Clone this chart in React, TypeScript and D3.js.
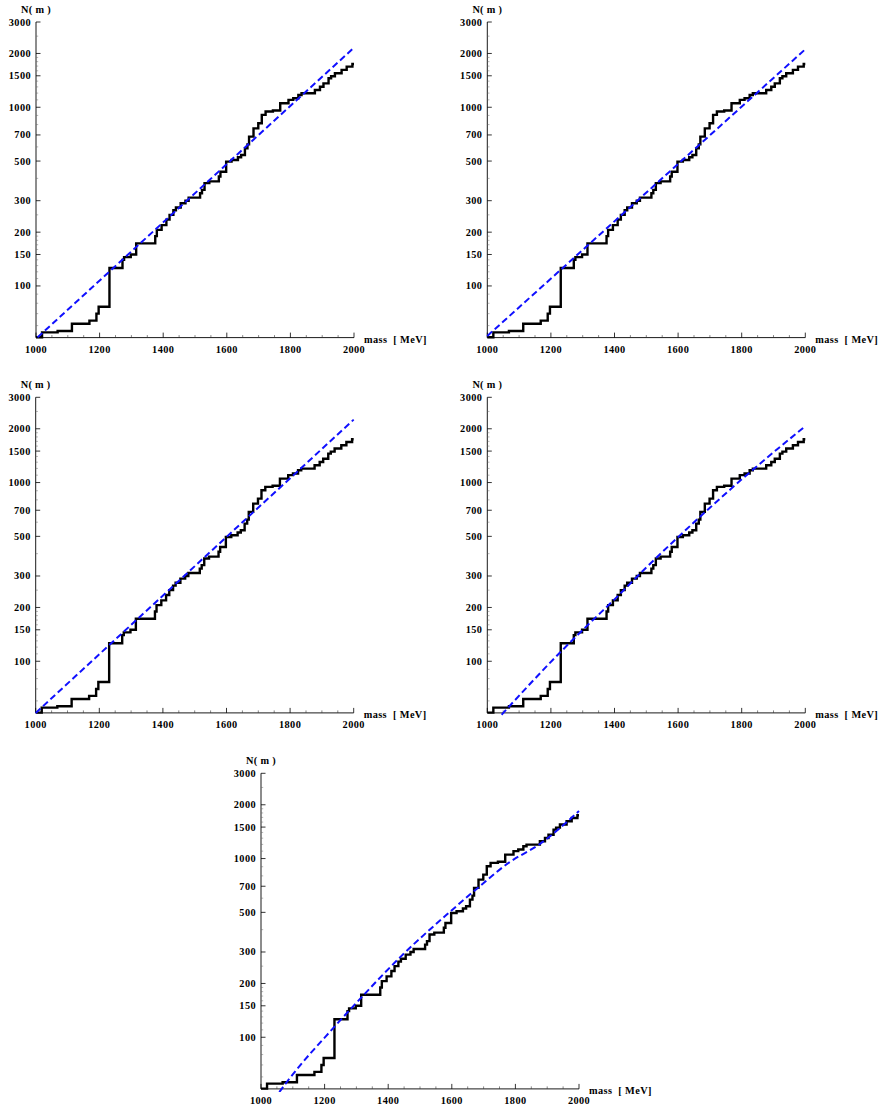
import React from 'react';
import * as d3 from 'd3';

// cumulative number of states N(m) (step function)
const stepMass = [1000, 1019, 1068, 1113, 1168, 1190, 1197, 1231, 1272, 1277, 1298, 1315, 1375, 1380, 1395, 1410, 1420, 1432, 1440, 1455, 1470, 1480, 1516, 1522, 1530, 1545, 1575, 1580, 1598, 1615, 1635, 1645, 1657, 1665, 1670, 1684, 1699, 1710, 1722, 1745, 1768, 1794, 1809, 1825, 1835, 1877, 1893, 1904, 1920, 1928, 1940, 1961, 1977, 1995, 2000];
const stepCount = [51.6, 55, 56, 61.5, 64, 70, 76.5, 126, 140, 145, 150, 173, 190, 206, 219, 235, 250, 265, 275, 290, 300, 312, 330, 345, 376, 385, 410, 436, 496, 507, 525, 541, 589, 620, 685, 762, 813, 906, 946, 960, 1052, 1100, 1124, 1172, 1197, 1250, 1303, 1360, 1452, 1490, 1550, 1618, 1688, 1746, 1746];

// fitted curves
const fit1Mass = [1005, 2000];
const fit1Count = [51.6, 2155];
const fit2Mass = [1000, 2000];
const fit2Count = [52.5, 2111];
const fit3Mass = [1000, 2000];
const fit3Count = [51.4, 2250];
const fit4Mass = [1045, 1231, 1320, 1400, 1500, 1600, 1700, 1800, 2000];
const fit4Count = [50.2, 113, 162, 222, 335, 495, 723, 1042, 2069];
const fit5Mass = [1057.5, 1080.6, 1232, 1321, 1437, 1594, 1677, 1782, 1876, 2000];
const fit5Count = [49.3, 56, 115, 171, 280, 503, 674, 955, 1203, 1847];

const xMajorTicks = [1000, 1200, 1400, 1600, 1800, 2000];
const xMinorTicks = [1050, 1100, 1150, 1250, 1300, 1350, 1450, 1500, 1550, 1650, 1700, 1750, 1850, 1900, 1950];
const yMajorTicks = [100, 150, 200, 300, 500, 700, 1000, 1500, 2000, 3000];
const yMinorTicks = [60, 70, 80, 90, 110, 120, 130, 140, 160, 170, 180, 190, 250, 400, 600, 800, 900, 1100, 1200, 1300, 1400, 1600, 1700, 1800, 1900, 2500];

const X_DOMAIN: [number, number] = [1000, 2000];
const Y_DOMAIN: [number, number] = [51.4, 3000];

const panels = [
  { x0: 36, yTop: 22, fm: fit1Mass, fc: fit1Count, curved: false },
  { x0: 487.3, yTop: 22, fm: fit2Mass, fc: fit2Count, curved: false },
  { x0: 35.7, yTop: 397.3, fm: fit3Mass, fc: fit3Count, curved: false },
  { x0: 487.3, yTop: 397.3, fm: fit4Mass, fc: fit4Count, curved: true },
  { x0: 261, yTop: 773.3, fm: fit5Mass, fc: fit5Count, curved: true },
];

const W = 318;
const H = 315.6;
const FONT = '"Liberation Serif", "Times New Roman", serif';

function Panel({ idx, x0, yTop, fm, fc, curved }: any) {
  const x = d3.scaleLinear().domain(X_DOMAIN).range([x0, x0 + W]);
  const y = d3.scaleLog().domain(Y_DOMAIN).range([yTop + H, yTop]);
  const bottom = yTop + H;
  const stepData = stepMass.map((m, i) => [m, stepCount[i]] as [number, number]);
  const stepLine = d3
    .line<[number, number]>()
    .x((d) => x(d[0]))
    .y((d) => y(d[1]))
    .curve(d3.curveStepAfter);
  const fitData = fm.map((m: number, i: number) => [m, fc[i]] as [number, number]);
  const fitLine = d3
    .line<[number, number]>()
    .x((d) => x(d[0]))
    .y((d) => y(d[1]))
    .curve(curved ? d3.curveMonotoneX : d3.curveLinear);
  const clipId = `clip${idx}`;
  return (
    <g>
      <defs>
        <clipPath id={clipId}>
          <rect x={x0 - 3} y={yTop - 3} width={W + 4} height={H + 6} />
        </clipPath>
      </defs>
      <line x1={x0} x2={x0 + W} y1={bottom} y2={bottom} stroke="#000" strokeWidth={0.9} />
      <line x1={x0} x2={x0} y1={bottom} y2={yTop} stroke="#000" strokeWidth={0.9} />
      {xMajorTicks.map((t) => (
        <g key={'xm' + t}>
          <line x1={x(t)} x2={x(t)} y1={bottom} y2={bottom - 5} stroke="#000" strokeWidth={0.8} />
          <text x={x(t)} y={bottom + 15.5} textAnchor="middle" fontFamily={FONT} fontWeight="bold" fontSize={10.3} letterSpacing={0.4}>
            {t}
          </text>
        </g>
      ))}
      {xMinorTicks.map((t) => (
        <line key={'xn' + t} x1={x(t)} x2={x(t)} y1={bottom} y2={bottom - 2.5} stroke="#333" strokeWidth={0.6} />
      ))}
      {yMajorTicks.map((t) => (
        <g key={'ym' + t}>
          <line x1={x0} x2={x0 + 4.5} y1={y(t)} y2={y(t)} stroke="#000" strokeWidth={0.8} />
          <text x={x0 - 5} y={y(t) + 3.5} textAnchor="end" fontFamily={FONT} fontWeight="bold" fontSize={10.3} letterSpacing={0.4}>
            {t}
          </text>
        </g>
      ))}
      {yMinorTicks.map((t) => (
        <line key={'yn' + t} x1={x0} x2={x0 + 2.2} y1={y(t)} y2={y(t)} stroke="#666" strokeWidth={0.5} />
      ))}
      <text x={x0} y={yTop - 9.5} textAnchor="middle" fontFamily={FONT} fontWeight="bold" fontSize={10.3} letterSpacing={0.3} style={{ whiteSpace: 'pre' }}>
        {'N( m )'}
      </text>
      <text x={x0 + W + 10} y={bottom + 5.5} textAnchor="start" fontFamily={FONT} fontWeight="bold" fontSize={10.3} letterSpacing={0.4} style={{ whiteSpace: 'pre' }}>
        {'mass  [ MeV]'}
      </text>
      <g clipPath={`url(#${clipId})`}>
        <path d={stepLine(stepData) || ''} fill="none" stroke="#000" strokeWidth={2.4} strokeLinejoin="miter" />
        <path d={fitLine(fitData) || ''} fill="none" stroke="#1010ff" strokeWidth={2} strokeDasharray="6.5 3.5" />
      </g>
    </g>
  );
}

export default function App() {
  return (
    <svg width={882} height={1109} style={{ position: 'absolute', left: 0, top: 0, background: '#fff' }}>
      <rect x={0} y={0} width={882} height={1109} fill="#fff" />
      {panels.map((p, i) => (
        <Panel key={i} idx={i} {...p} />
      ))}
    </svg>
  );
}
